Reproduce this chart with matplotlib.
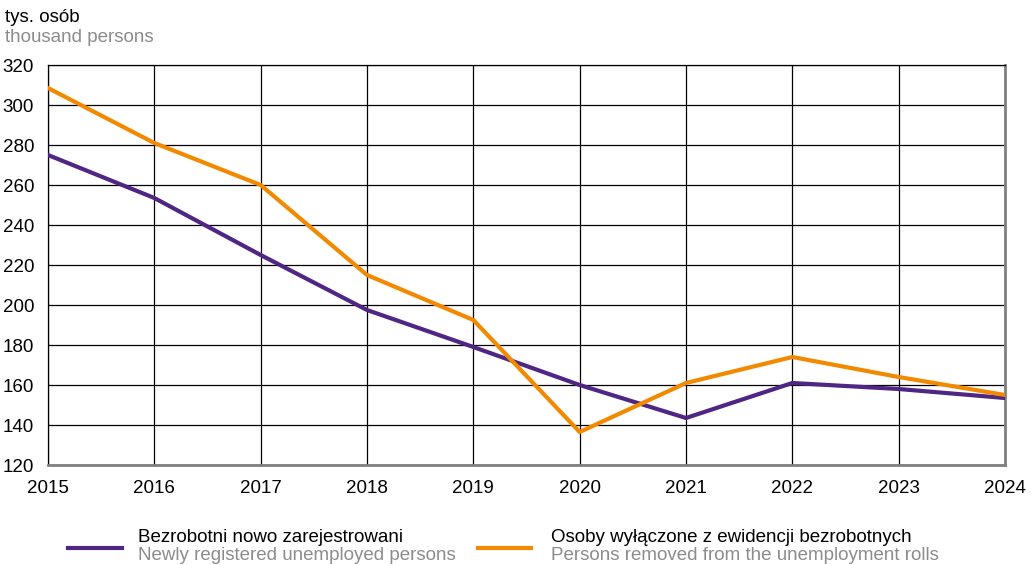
import matplotlib.pyplot as plt
from matplotlib.lines import Line2D

plt.rcParams['font.family'] = ['Liberation Sans', 'DejaVu Sans']

years = [2015, 2016, 2017, 2018, 2019, 2020, 2021, 2022, 2023, 2024]
registered = [275, 253.5, 225, 197.5, 179, 160, 143.5, 161, 158, 153.5]
removed = [308.5, 281, 260, 215, 192.5, 136.5, 161, 174, 164, 155]

purple = '#4f2683'
orange = '#f18a00'
fs = 13.5

fig = plt.figure(figsize=(10.31, 5.65), dpi=100)
ax = fig.add_axes([48 / 1031, 1 - 465 / 565, (1005 - 48) / 1031, 400 / 565])

ax.plot(years, registered, color=purple, lw=3, zorder=3, solid_joinstyle='miter')
ax.plot(years, removed, color=orange, lw=3, zorder=4, solid_joinstyle='miter')

ax.set_xlim(2015, 2024)
ax.set_ylim(120, 320)
ax.set_xticks(years)
ax.set_yticks(range(120, 321, 20))
ax.grid(True, color='black', lw=0.9, zorder=1)
ax.tick_params(length=0, labelsize=fs)
ax.tick_params(axis='x', pad=11)
ax.tick_params(axis='y', pad=10)
for s in ['top', 'left']:
    ax.spines[s].set_color('black')
    ax.spines[s].set_linewidth(0.9)
for s in ['right', 'bottom']:
    ax.spines[s].set_color('#808080')
    ax.spines[s].set_linewidth(2)

fig.text(5 / 1031, 1 - 18 / 565, 'tys. osób', fontsize=fs, va='center')
fig.text(5 / 1031, 1 - 38 / 565, 'thousand persons', fontsize=fs, va='center', color='#8c8c8c')

legend_items = [
    (68, 122, 138, purple, 'Bezrobotni nowo zarejestrowani', 'Newly registered unemployed persons'),
    (478, 531, 551, orange, 'Osoby wyłączone z ewidencji bezrobotnych', 'Persons removed from the unemployment rolls'),
]
for x0, x1, xt, col, pl, en in legend_items:
    fig.add_artist(Line2D([x0 / 1031, x1 / 1031], [1 - 548 / 565] * 2, color=col, lw=3,
                          transform=fig.transFigure))
    fig.text(xt / 1031, 1 - 538 / 565, pl, fontsize=fs, va='center')
    fig.text(xt / 1031, 1 - 556 / 565, en, fontsize=fs, va='center', color='#8c8c8c')

fig.savefig('out.png', dpi=100)
